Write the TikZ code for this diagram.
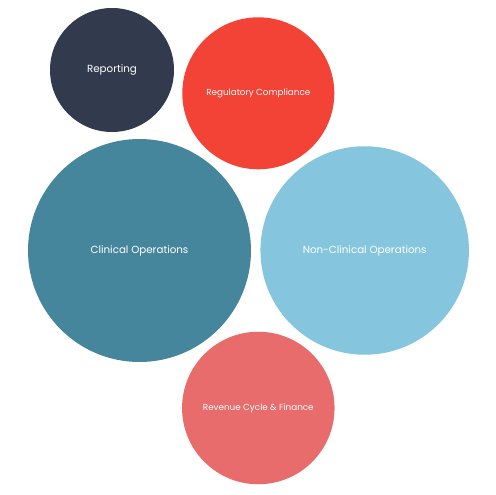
\documentclass[tikz,border=0pt]{standalone}
\usepackage{fontspec}
\setmainfont{Poppins}
\definecolor{navy}{HTML}{323B4E}
\definecolor{redc}{HTML}{F34336}
\definecolor{teal}{HTML}{45869D}
\definecolor{lightb}{HTML}{85C5DE}
\definecolor{salmon}{HTML}{E76C6B}
\begin{document}
\begin{tikzpicture}[x=1pt,y=1pt,
  bubble/.style={circle,inner sep=0pt,text=white,font=\fontsize{10.3}{12}\selectfont},
  small/.style={font=\fontsize{8.8}{10}\selectfont}]
\useasboundingbox (0,0) rectangle (495,495);
\node[bubble,fill=navy,minimum size=124pt] (rep) at (112,425) {Reporting};
\node[bubble,small,fill=redc,minimum size=152pt] (reg) at (258.3,401.7) {Regulatory Compliance};
\node[bubble,fill=teal,minimum size=223pt] (clin) at (139.5,244.5) {Clinical Operations};
\node[bubble,fill=lightb,minimum size=208.5pt] (nonclin) at (364.7,244.5) {Non-Clinical Operations};
\node[bubble,small,fill=salmon,minimum size=152.5pt] (rev) at (258.3,87) {Revenue Cycle \& Finance};
\end{tikzpicture}
\end{document}
